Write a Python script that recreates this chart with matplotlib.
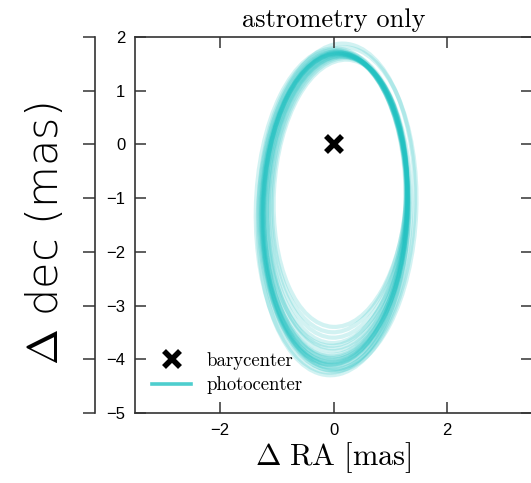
import matplotlib
matplotlib.use("Agg")
import matplotlib.pyplot as plt
from matplotlib.patches import Ellipse
from matplotlib.lines import Line2D

plt.rcParams['mathtext.fontset'] = 'cm'

# ---- data: each orbit's top, bottom, x half-width, x centre, tilt ----
orbit_top = [1.70, 1.67, 1.73, 1.64, 1.71, 1.79, 1.61, 1.69, 1.76, 1.65, 1.70, 1.63,
             1.88, 1.68, 1.72, 1.58, 1.69, 1.74, 1.66, 1.71, 1.81, 1.68, 1.72, 1.64]
orbit_bottom = [-4.05, -3.95, -4.15, -3.70, -4.10, -4.25, -3.50, -4.00, -4.20, -3.85, -4.08, -3.60,
                -4.30, -3.92, -4.12, -3.40, -4.02, -4.18, -3.80, -4.06, -4.22, -3.98, -4.10, -3.75]
orbit_halfwidth = [1.28, 1.26, 1.30, 1.22, 1.29, 1.35, 1.18, 1.27, 1.32, 1.24, 1.28, 1.20,
                   1.38, 1.25, 1.29, 1.17, 1.28, 1.31, 1.23, 1.27, 1.36, 1.26, 1.29, 1.22]
orbit_cx = [0.03, 0.05, 0.00, 0.08, 0.02, -0.02, 0.10, 0.04, 0.00, 0.06, 0.03, 0.09,
            0.05, 0.02, 0.05, 0.12, 0.01, 0.06, 0.07, 0.03, 0.10, 0.04, 0.00, 0.05]
orbit_angle = [-1.5, -2.0, -1.0, -2.5, -1.5, -1.0, -3.0, -1.2, -0.5, -2.0, -1.8, -2.5,
               -2.5, -1.6, -1.4, -3.0, -1.7, -1.0, -2.2, -1.5, -2.0, -1.9, -1.3, -2.4]
bary_x = [0.0]
bary_y = [0.0]
xticks = [-2, 0, 2]
yticks = [-5, -4, -3, -2, -1, 0, 1, 2]

color = '#22c2c2'
W, H = 531, 483
fig = plt.figure(figsize=(W / 100, H / 100), dpi=100)
bottom = (H - 413) / H
height = (413 - 37) / H
ax = fig.add_axes([135 / W, bottom, 397 / W, height])

for t, bt, a, cx, ang in zip(orbit_top, orbit_bottom, orbit_halfwidth, orbit_cx, orbit_angle):
    ax.add_patch(Ellipse((cx, (t + bt) / 2), 2 * a, t - bt, angle=ang, fill=False,
                         edgecolor=color, lw=3.0, alpha=0.2))
ax.plot(bary_x, bary_y, 'x', color='black', ms=11, mew=4, zorder=5)

ax.set_xlim(-3.5, 3.5)
ax.set_ylim(-5, 2)
ax.set_xticks(xticks)
ax.set_yticks(yticks)
ax.tick_params(direction='in', length=8, width=1.1, top=True, right=True,
               labelsize=12, pad=7, color='#333333')
for lab in ax.get_xticklabels() + ax.get_yticklabels():
    lab.set_family('Liberation Sans')
for s in ax.spines.values():
    s.set_linewidth(1.2)
    s.set_color('#333333')

ax.set_title('astrometry only', family='cmr10', fontsize=19, pad=7)
ax.set_xlabel(r'$\mathrm{\Delta\ RA\ [mas]}$', fontsize=22, labelpad=2)

handles = [Line2D([], [], marker='x', ls='none', color='black', ms=11, mew=4),
           Line2D([], [], color=color, lw=2.6, alpha=0.8)]
leg = ax.legend(handles, ['barycenter', 'photocenter'], loc='lower left',
                bbox_to_anchor=(0.043, 0.05), frameon=False, borderpad=0,
                borderaxespad=0, handlelength=2.1, handletextpad=0.8,
                labelspacing=0.35, prop={'family': 'cmr10', 'size': 13.5})

# outer offset spine
ax2 = fig.add_axes([95 / W, bottom, 0.0001, height])
ax2.set_ylim(-5, 2)
ax2.set_yticks(yticks)
ax2.set_yticklabels([])
ax2.set_xticks([])
for k in ['top', 'right', 'bottom']:
    ax2.spines[k].set_visible(False)
ax2.spines['left'].set_linewidth(1.2)
ax2.spines['left'].set_color('#333333')
ax2.tick_params(direction='out', length=9, width=1.1, color='#333333')
ax2.patch.set_alpha(0)

fig.text(45 / W, 1 - 234 / H, r'$\Delta$ dec (mas)', rotation=90, ha='center',
         va='center', fontsize=31, family='DejaVu Sans', fontweight='light')

fig.savefig('out.png', dpi=100)
